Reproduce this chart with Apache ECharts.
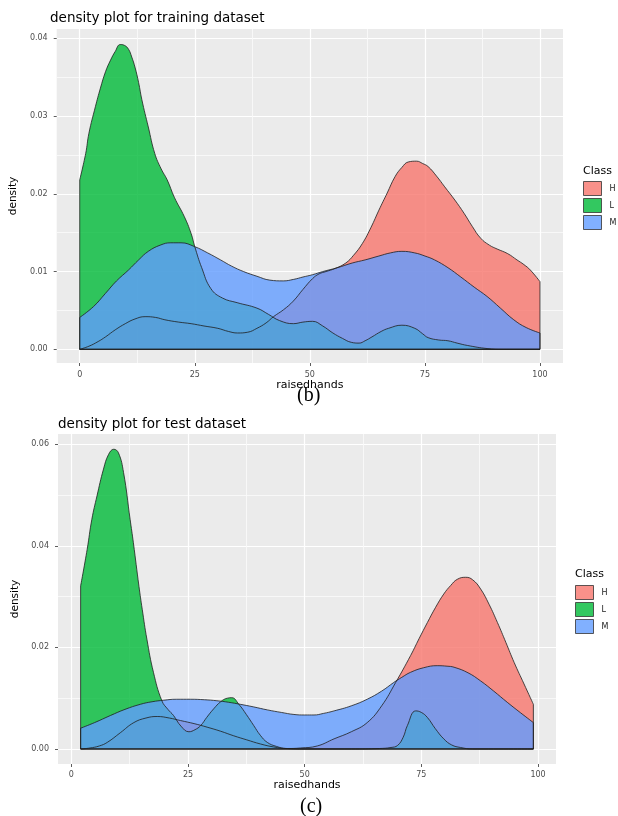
<!DOCTYPE html>
<html>
<head>
<meta charset="utf-8">
<script src="https://cdn.jsdelivr.net/npm/echarts@6/dist/echarts.min.js"></script>
<style>
html,body{margin:0;padding:0;background:#fff;}
#c{width:618px;height:816px;}
</style>
</head>
<body>
<div id="c"></div>
<script>
// ---------- data ----------
const classes = ['H', 'L', 'M'];
const xTicks = [0, 25, 50, 75, 100];
const xMinor = [12.5, 37.5, 62.5, 87.5];
const trainYTicks = [0, 0.01, 0.02, 0.03, 0.04];
const trainYMinor = [0.005, 0.015, 0.025, 0.035];
const testYTicks = [0, 0.02, 0.04, 0.06];
const testYMinor = [0.01, 0.03, 0.05];

// training dataset
const trainHx = [0, 2, 4, 5.6, 7.7, 9.9, 12, 14.2, 16.5, 18.5, 21.5, 24.2, 27, 30, 32.3, 34.3, 36.5, 38.5, 40.5, 42.1, 44.3, 46.4, 48.5, 50.6, 52, 53.5, 55.5, 57.8, 59.5, 61.4, 63.3, 65, 66.8, 68.5, 70, 71.4, 73.2, 74.5, 75.7, 77.5, 79.3, 81.5, 83.5, 85.3, 87.1, 89, 90.7, 93, 95, 96.5, 97.9, 100];
const trainHy = [0, 0.0004, 0.0010, 0.0016, 0.0025, 0.0033, 0.0039, 0.0042, 0.0041, 0.0038, 0.0035, 0.0033, 0.0030, 0.0027, 0.0023, 0.0021, 0.0022, 0.0027, 0.0034, 0.0042, 0.0051, 0.0062, 0.0077, 0.0091, 0.0097, 0.0100, 0.0104, 0.0111, 0.0121, 0.0136, 0.0157, 0.0179, 0.0201, 0.0222, 0.0234, 0.0241, 0.0242, 0.0239, 0.0235, 0.0223, 0.0209, 0.0192, 0.0175, 0.0158, 0.0143, 0.0134, 0.0129, 0.0123, 0.0115, 0.0109, 0.0102, 0.0087];

const trainLx = [0, 1.3, 2, 3.4, 4.5, 5.6, 6.7, 7.7, 8.8, 9.7, 10.6, 11.3, 12, 12.8, 13.5, 14.9, 16.3, 17.7, 19, 20.6, 22.7, 24.2, 25, 26.5, 28.5, 31, 34.2, 38.5, 41, 43.4, 46.4, 48.5, 50.6, 52.8, 55, 57.1, 59, 60.7, 62, 63.5, 65.5, 67.1, 70, 72.8, 74.5, 75.7, 78, 80, 82, 84.2, 88.5, 92, 100];
const trainLy = [0.0218, 0.0252, 0.0278, 0.0312, 0.0336, 0.0357, 0.0372, 0.0383, 0.0392, 0.0391, 0.0386, 0.0376, 0.0363, 0.0343, 0.0321, 0.0286, 0.0252, 0.0232, 0.0218, 0.0195, 0.0171, 0.0149, 0.0132, 0.0105, 0.0078, 0.0066, 0.0060, 0.0053, 0.0045, 0.0037, 0.0033, 0.0035, 0.0036, 0.0030, 0.0021, 0.0014, 0.0009, 0.0008, 0.0011, 0.0016, 0.0023, 0.0027, 0.0031, 0.0027, 0.0020, 0.0015, 0.0012, 0.0011, 0.0008, 0.0005, 0.0001, 0, 0];

const trainMx = [0, 3, 5.6, 8, 10.6, 12.8, 14.9, 17.5, 19.8, 22, 25, 27.8, 30.6, 33, 35.6, 38.5, 41.3, 44.2, 46.5, 48.5, 50.6, 52.8, 56, 59.2, 62, 65, 67.5, 70, 72.8, 75, 77.1, 80, 82.8, 85.7, 88.5, 91.4, 94.3, 97, 100];
const trainMy = [0.0041, 0.0055, 0.0072, 0.0088, 0.0102, 0.0115, 0.0126, 0.0134, 0.0137, 0.0137, 0.0132, 0.0124, 0.0115, 0.0107, 0.0100, 0.0094, 0.0089, 0.0088, 0.0090, 0.0093, 0.0096, 0.0100, 0.0105, 0.0111, 0.0115, 0.0120, 0.0124, 0.0126, 0.0124, 0.0120, 0.0115, 0.0105, 0.0093, 0.0080, 0.0068, 0.0053, 0.0038, 0.0028, 0.0021];

// test dataset
const testHx = [2, 4, 6, 7.7, 10.5, 13.4, 16, 18.4, 21, 23.4, 26.3, 29.1, 32, 34.8, 37.6, 40.5, 43.4, 46.3, 49.1, 52.7, 56.3, 60, 63.4, 66.5, 69.5, 72.7, 74.5, 76.3, 78, 79.8, 81.3, 82.7, 84.5, 86, 87.7, 89.5, 91.3, 93.1, 94.9, 97, 99];
const testHy = [0, 0.0002, 0.0006, 0.0013, 0.0032, 0.0052, 0.0061, 0.0064, 0.0061, 0.0056, 0.0050, 0.0043, 0.0035, 0.0026, 0.0018, 0.0010, 0.0004, 0.0001, 0.0002, 0.0006, 0.0020, 0.0034, 0.0052, 0.0085, 0.0131, 0.0184, 0.0217, 0.0249, 0.0278, 0.0305, 0.0322, 0.0334, 0.0338, 0.0333, 0.0315, 0.0285, 0.0249, 0.0210, 0.0170, 0.0128, 0.0088];

const testLx = [2, 3.4, 4.4, 5.5, 6.9, 8, 9.1, 10.1, 11.2, 12.6, 13.3, 14.5, 15.2, 16.2, 17.6, 19.4, 20.7, 21.9, 23.5, 25.2, 26.5, 27.7, 29, 30.5, 32, 33.4, 34.4, 35.9, 37.5, 39.1, 40.5, 42, 44, 46, 50, 60, 66, 68.5, 69.9, 71.1, 72, 73.8, 75, 76.3, 78, 79.8, 81.5, 83.4, 86, 99];
const testLy = [0.0321, 0.0393, 0.0452, 0.0498, 0.0551, 0.0580, 0.0590, 0.0583, 0.0544, 0.0452, 0.0406, 0.0320, 0.0275, 0.0216, 0.0151, 0.0095, 0.0078, 0.0066, 0.0045, 0.0034, 0.0038, 0.0046, 0.0062, 0.0079, 0.0093, 0.0100, 0.0101, 0.0088, 0.0068, 0.0046, 0.0027, 0.0013, 0.0005, 0.0001, 0, 0, 0.0001, 0.0003, 0.0007, 0.0023, 0.0046, 0.0075, 0.0072, 0.0062, 0.0040, 0.0020, 0.0008, 0.0003, 0, 0];

const testMx = [2, 5, 8.4, 11.5, 14.8, 17.3, 19.8, 22.5, 25.5, 28.5, 31.2, 33.7, 36.2, 39, 42, 45, 47.7, 50, 52, 54, 56.3, 60, 63.4, 66.5, 69.1, 70.8, 72.7, 75.5, 78.4, 80.5, 82, 85, 87.7, 90.5, 93.4, 96.3, 99];
const testMy = [0.0041, 0.0052, 0.0066, 0.0078, 0.0088, 0.0093, 0.0096, 0.0098, 0.0098, 0.0097, 0.0095, 0.0092, 0.0088, 0.0083, 0.0077, 0.0072, 0.0068, 0.0067, 0.0067, 0.0070, 0.0075, 0.0085, 0.0098, 0.0114, 0.0131, 0.0141, 0.0151, 0.0160, 0.0164, 0.0163, 0.0161, 0.0150, 0.0134, 0.0114, 0.0092, 0.0071, 0.0052];

// ---------- styling ----------
const colors = { H: '#F8766D', L: '#00BA38', M: '#619CFF' };
const FONT = 'DejaVu Sans';
const OUTLINE = '#1e1e1e';

function pairs(xs, ys) { return xs.map((x, i) => [x, ys[i]]); }
function edges(xs, ys) {
  const n = xs.length - 1;
  return [[xs[0], ys[0]], [xs[0], 0], [xs[n], 0], [xs[n], ys[n]]];
}

function densitySeries(name, xs, ys, g) {
  return [
    {
      name: name, type: 'line', xAxisIndex: g * 2, yAxisIndex: g * 2,
      data: pairs(xs, ys), showSymbol: false, symbol: 'none',
      smooth: 0.45,
      lineStyle: { color: OUTLINE, width: 0.8 },
      itemStyle: { color: colors[name] },
      areaStyle: { color: colors[name], opacity: 0.8 },
      emphasis: { disabled: true }, silent: true
    },
    {
      type: 'line', xAxisIndex: g * 2, yAxisIndex: g * 2,
      data: edges(xs, ys), showSymbol: false, symbol: 'none',
      lineStyle: { color: OUTLINE, width: 0.8 },
      emphasis: { disabled: true }, silent: true
    }
  ];
}

function xAxes(g, min, max, labelMargin) {
  return [
    {
      type: 'value', gridIndex: g, min: min, max: max, position: 'bottom',
      name: 'raisedhands', nameLocation: 'middle', nameGap: 16,
      nameTextStyle: { fontFamily: FONT, fontSize: 11, color: '#000' },
      axisLine: { show: false, onZero: false },
      axisTick: { show: true, length: 3, customValues: xTicks, lineStyle: { color: '#333', width: 0.8 } },
      axisLabel: { customValues: xTicks, margin: labelMargin, fontFamily: FONT, fontSize: 8, color: '#4D4D4D' },
      splitLine: { show: true, lineStyle: { color: '#FFFFFF', width: 1.2 } }
    },
    {
      type: 'value', gridIndex: g, min: min, max: max, position: 'bottom',
      axisLine: { show: false, onZero: false },
      axisTick: { show: false, customValues: xMinor },
      axisLabel: { show: false, customValues: xMinor },
      splitLine: { show: true, lineStyle: { color: '#F9F9F9', width: 0.9 } }
    }
  ];
}

function yAxes(g, min, max, ticks, minor) {
  return [
    {
      type: 'value', gridIndex: g, min: min, max: max, position: 'left',
      name: 'density', nameLocation: 'middle', nameGap: 27, nameRotate: 90,
      nameTextStyle: { fontFamily: FONT, fontSize: 10.5, color: '#000' },
      axisLine: { show: false, onZero: false },
      axisTick: { show: true, length: 3, customValues: ticks, lineStyle: { color: '#333', width: 0.8 } },
      axisLabel: { customValues: ticks, margin: 9, fontFamily: FONT, fontSize: 8, color: '#4D4D4D',
                   formatter: v => v.toFixed(2) },
      splitLine: { show: true, lineStyle: { color: '#FFFFFF', width: 1.2 } }
    },
    {
      type: 'value', gridIndex: g, min: min, max: max, position: 'left',
      axisLine: { show: false, onZero: false },
      axisTick: { show: false, customValues: minor },
      axisLabel: { show: false, customValues: minor },
      splitLine: { show: true, lineStyle: { color: '#F9F9F9', width: 0.9 } }
    }
  ];
}

function legendFor(left, top) {
  return {
    orient: 'vertical', left: left, top: top, padding: 0,
    icon: 'rect', itemWidth: 18, itemHeight: 14, itemGap: 2,
    selectedMode: false,
    textStyle: { fontFamily: FONT, fontSize: 8, color: '#1a1a1a', padding: [0, 0, 0, 3] },
    data: classes.map(n => ({ name: n, itemStyle: { color: colors[n], opacity: 0.8, borderColor: '#333', borderWidth: 1 } }))
  };
}

const chart = echarts.init(document.getElementById('c'), null, { renderer: 'canvas' });
const option = {
  animation: false,
  backgroundColor: '#ffffff',
  title: [
    { text: 'density plot for training dataset', left: 50, top: 10, padding: 0,
      textStyle: { fontFamily: FONT, fontSize: 13.5, fontWeight: 'normal', color: '#000', lineHeight: 16 } },
    { text: 'density plot for test dataset', left: 58, top: 416, padding: 0,
      textStyle: { fontFamily: FONT, fontSize: 13.5, fontWeight: 'normal', color: '#000', lineHeight: 16 } }
  ],
  grid: [
    { left: 50, top: 29, width: 513, height: 334, show: true, backgroundColor: '#EBEBEB', borderWidth: 0 },
    { left: 58, top: 434, width: 498, height: 330, show: true, backgroundColor: '#EBEBEB', borderWidth: 0 }
  ],
  xAxis: [].concat(xAxes(0, -5, 105, 8), xAxes(1, -2.85, 103.85, 7)),
  yAxis: [].concat(yAxes(0, -0.00176, 0.0412, trainYTicks, trainYMinor), yAxes(1, -0.00295, 0.062, testYTicks, testYMinor)),
  legend: [legendFor(583, 181), legendFor(575, 585)],
  graphic: [
    { type: 'text', left: 583, top: 166, style: { text: 'Class', font: '11px "DejaVu Sans"', fill: '#000' } },
    { type: 'text', left: 575, top: 569, style: { text: 'Class', font: '11px "DejaVu Sans"', fill: '#000' } },
    { type: 'text', left: 297, top: 386, style: { text: '(b)', font: '20px "Liberation Serif"', fill: '#000' } },
    { type: 'text', left: 300, top: 797, style: { text: '(c)', font: '20px "Liberation Serif"', fill: '#000' } }
  ],
  series: [].concat(
    densitySeries('H', trainHx, trainHy, 0),
    densitySeries('L', trainLx, trainLy, 0),
    densitySeries('M', trainMx, trainMy, 0),
    densitySeries('H', testHx, testHy, 1),
    densitySeries('L', testLx, testLy, 1),
    densitySeries('M', testMx, testMy, 1)
  )
};
chart.setOption(option);
</script>
</body>
</html>
